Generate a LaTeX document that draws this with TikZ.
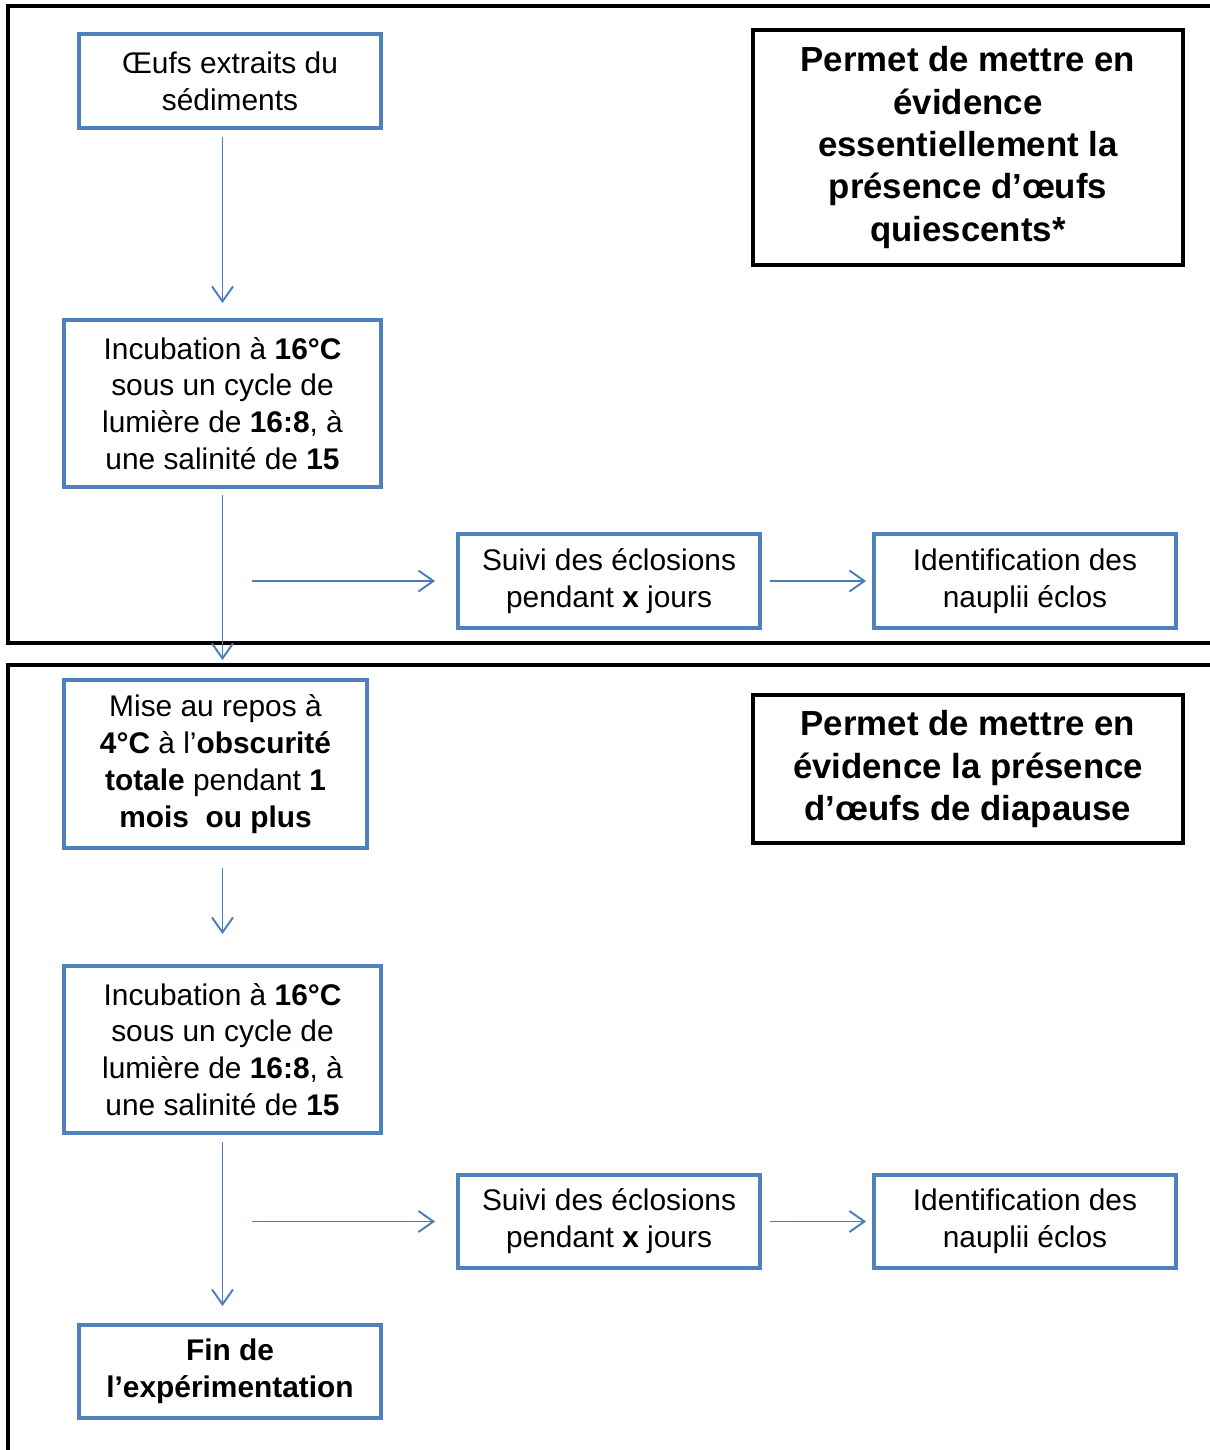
\documentclass[tikz,border=0pt]{standalone}
\usepackage{fontspec}
\setmainfont{Liberation Sans}
\usetikzlibrary{arrows.meta,calc}
\definecolor{stepDraw}{HTML}{4F81BD}
\definecolor{arrDraw}{HTML}{4A7EBB}
\tikzset{
  box/.style   ={draw=stepDraw, fill=white, line width=2.2pt, align=center, inner sep=2pt,
                 font=\fontsize{17}{21}\selectfont},
  note/.style  ={draw=black, fill=white, line width=2.3pt, align=center, inner sep=2pt,
                 font=\fontsize{19.8}{24.1}\selectfont\bfseries},
  frame/.style ={draw=black, line width=2.8pt},
  arr/.style   ={draw=arrDraw, line width=1.1pt, -{Straight Barb[length=3mm, width=4.2mm, line width=1.1pt]}},
}

\begin{document}
\begin{tikzpicture}[x=0.02cm, y=-0.02cm]
  \clip (0,0) rectangle (1210,1450);

  % the two frames (they run past the right and lower edges)
  \draw[frame] (8,6) rectangle (1240,643);
  \draw[frame] (8,665) rectangle (1240,1480);

  % first incubation (top frame)
  \node[box, minimum width=6.04cm, minimum height=1.88cm] (oeufs) at (230,81) {Œufs extraits du\\sédiments};
  \node[box, minimum width=6.34cm, minimum height=3.34cm] (incubA) at (222.5,403.5)
    {Incubation à \textbf{16°C}\\sous un cycle de\\lumière de \textbf{16:8}, à\\une salinité de \textbf{15}};
  \node[box, minimum width=6.04cm, minimum height=1.88cm] (suiviA) at (609,581) {Suivi des éclosions\\pendant \textbf{x} jours};
  \node[box, minimum width=6.04cm, minimum height=1.88cm] (identA) at (1025,581) {Identification des\\nauplii éclos};
  \node[note, minimum width=8.6cm, minimum height=4.7cm] (quies) at (968,147.5)
    {Permet de mettre en\\évidence\\essentiellement la\\présence d’œufs\\quiescents*};

  % rest period and second incubation (lower frame)
  \node[box, minimum width=6.06cm, minimum height=3.36cm] (repos) at (215.5,764)
    {Mise au repos à\\\textbf{4°C} à l’\textbf{obscurité}\\\textbf{totale} pendant \textbf{1}\\\textbf{mois\ \ ou plus}};
  \node[box, minimum width=6.34cm, minimum height=3.34cm] (incubB) at (222.5,1049.5)
    {Incubation à \textbf{16°C}\\sous un cycle de\\lumière de \textbf{16:8}, à\\une salinité de \textbf{15}};
  \node[box, minimum width=6.04cm, minimum height=1.86cm] (suiviB) at (609,1221.5) {Suivi des éclosions\\pendant \textbf{x} jours};
  \node[box, minimum width=6.04cm, minimum height=1.86cm] (identB) at (1025,1221.5) {Identification des\\nauplii éclos};
  \node[box, minimum width=6.04cm, minimum height=1.86cm] (fin) at (230,1371.5) {\textbf{Fin de}\\\textbf{l’expérimentation}};
  \node[note, minimum width=8.6cm, minimum height=2.96cm] (diap) at (968,769)
    {Permet de mettre en\\évidence la présence\\d’œufs de diapause};

  % free starts of the side arrows
  \coordinate (sA) at ([xshift=0.6cm]incubA.south |- suiviA.west);
  \coordinate (sB) at ([xshift=0.6cm]incubB.south |- suiviB.west);

  \draw[arr, shorten <=0.14cm, shorten >=0.3cm] (oeufs.south -| incubA.north) -- (incubA.north);
  \draw[arr, shorten <=0.12cm, shorten >=0.36cm] (incubA.south) -- (incubA.south |- repos.north);
  \draw[arr, shorten >=0.42cm] (sA) -- (suiviA.west);
  \draw[arr, shorten <=0.16cm, shorten >=0.12cm] (suiviA) -- (identA);

  \draw[arr, shorten <=0.36cm, shorten >=0.6cm] (repos.south -| incubB.north) -- (incubB.north);
  \draw[arr, shorten <=0.14cm, shorten >=0.34cm] (incubB.south) -- (incubB.south |- fin.north);
  \draw[arr, shorten >=0.42cm] (sB) -- (suiviB.west);
  \draw[arr, shorten <=0.16cm, shorten >=0.12cm] (suiviB) -- (identB);
\end{tikzpicture}
\end{document}
